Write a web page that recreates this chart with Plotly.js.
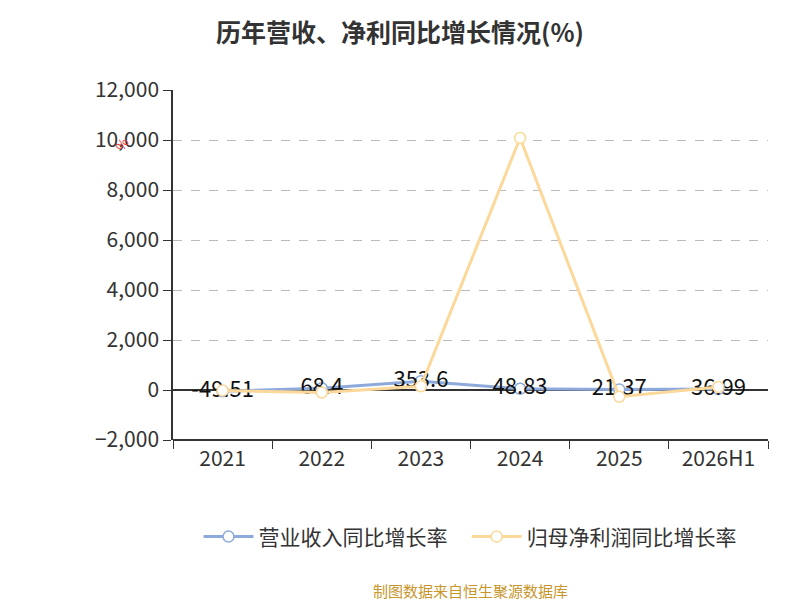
<!DOCTYPE html>
<html><head><meta charset="utf-8">
<script src="https://cdn.plot.ly/plotly-3.0.1.min.js"></script>
<style>body{margin:0}</style></head><body>
<div id="c" style="width:800px;height:600px"></div>
<script>
const years = ["2021","2022","2023","2024","2025","2026H1"];
const revenueGrowth = [-49.51, 68.4, 353.6, 48.83, 21.37, 36.99];
const profitGrowth = [-20, -100, 150, 10080, -270, 120];
const revLabels = ["-49.51","68.4","353.6","48.83","21.37","36.99"];
const F = "'Noto Sans CJK SC', 'Noto Sans', sans-serif";
Plotly.newPlot('c', [
 {x: years, y: revenueGrowth, name: "营业收入同比增长率   ", type: "scatter", mode: "lines+markers+text",
  text: revLabels, textposition: "middle center", textfont: {size: 22, color: "#111", family: F},
  line: {color: "#8eaadb", width: 3}, marker: {size: 11, color: "#fff", line: {color: "#8eaadb", width: 1.5}}},
 {x: years, y: profitGrowth, name: "归母净利润同比增长率", type: "scatter", mode: "lines+markers",
  line: {color: "#fcd89a", width: 3}, marker: {size: 11, color: "#fff", line: {color: "#fcd89a", width: 1.5}}}
], {
 width: 800, height: 600, paper_bgcolor: "#fff", plot_bgcolor: "#fff",
 margin: {l: 173, r: 32, t: 90, b: 160},
 title: {text: "<b>历年营收、净利同比增长情况(%)</b>", x: 0.5, y: 0.96, font: {size: 25, color: "#333", family: F}},
 font: {family: F},
 xaxis: {type: "category", range: [-0.5, 5.5], tickson: "boundaries", ticks: "outside", ticklen: 8,
   tickcolor: "#333", showline: true, linecolor: "#333", linewidth: 1.5, showgrid: false, zeroline: false,
   tickfont: {size: 21, color: "#333"}, anchor: "free", position: 0},
 yaxis: {range: [-2000, 12000], dtick: 2000, tickformat: ",d", showline: true, linecolor: "#333", linewidth: 1.5,
   ticks: "outside", ticklen: 8, tickcolor: "#333", gridcolor: "#bbb", griddash: "dash",
   zeroline: true, zerolinecolor: "#333", zerolinewidth: 1.5, tickfont: {size: 21, color: "#333"}},
 showlegend: true,
 legend: {orientation: "h", x: 0.5, xanchor: "center", y: -0.277, yanchor: "middle", itemwidth: 50, font: {size: 21, color: "#333"}},
 annotations: [
  {text: "%", xref: "paper", yref: "paper", x: -0.11, y: 0.88, showarrow: false, textangle: -60, font: {size: 13, color: "#e33"}},
  {text: "制图数据来自恒生聚源数据库", xref: "paper", yref: "paper", x: 0.5, y: -0.43, yanchor: "middle", showarrow: false, font: {size: 15, color: "#c8962c"}}
 ]
}, {displayModeBar: false});
</script></body></html>
